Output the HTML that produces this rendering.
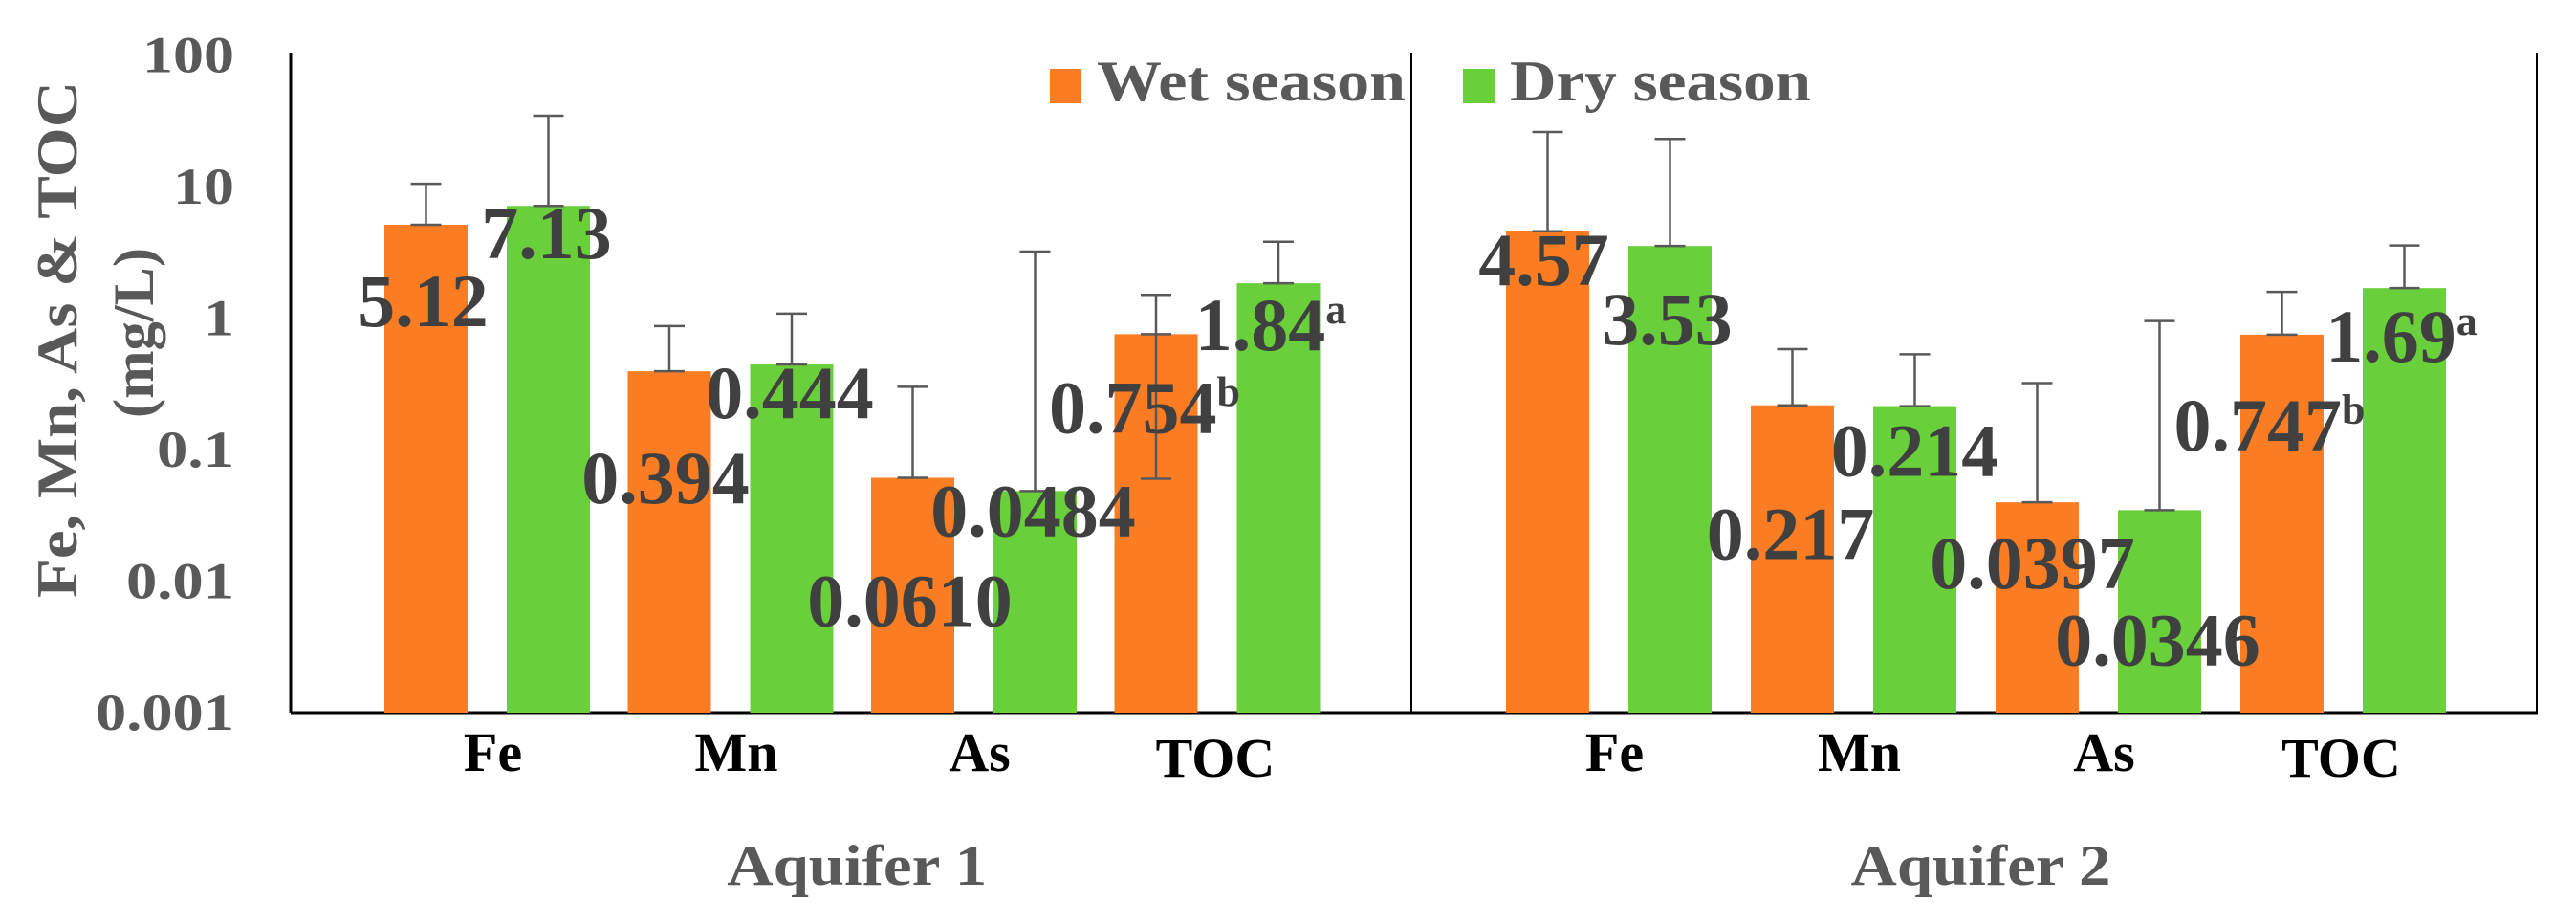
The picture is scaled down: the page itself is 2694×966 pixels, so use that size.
<!DOCTYPE html>
<html><head><meta charset="utf-8">
<style>
html,body{margin:0;padding:0;background:#fff;}
svg{display:block;font-family:"Liberation Serif",serif;font-weight:bold;}
</style></head>
<body>
<svg id="chart" width="2694" height="966" viewBox="0 0 2694 966" xmlns="http://www.w3.org/2000/svg">
<g id="axes"></g>
<g id="bars"></g>
<g id="labels"></g>
</svg>
<script>
const groups = ["Aquifer 1", "Aquifer 2"];
const categories = ["Fe", "Mn", "As", "TOC"];
const wetValues = [[5.12, 0.394, 0.0610, 0.754], [4.57, 0.217, 0.0397, 0.747]];
const dryValues = [[7.13, 0.444, 0.0484, 1.84], [3.53, 0.214, 0.0346, 1.69]];
const wetLabels = [["5.12", "0.394", "0.0610", "0.754"], ["4.57", "0.217", "0.0397", "0.747"]];
const dryLabels = [["7.13", "0.444", "0.0484", "1.84"], ["3.53", "0.214", "0.0346", "1.69"]];
const wetSup = [["", "", "", "b"], ["", "", "", "b"]];
const drySup = [["", "", "", "a"], ["", "", "", "a"]];
const wetErrTop = [[10.5, 0.87, 0.30, 1.5], [26, 0.58, 0.32, 1.58]];
const dryErrTop = [[34.5, 1.08, 3.2, 3.8], [23, 0.53, 0.95, 3.56]];
const wetErrBottom = [[null, null, null, 0.06], [null, null, null, null]];
const yTicks = [0.001, 0.01, 0.1, 1, 10, 100];
const yTickLabels = ["0.001", "0.01", "0.1", "1", "10", "100"];

const NS = "http://www.w3.org/2000/svg";
const Y_TOP = 57.5, DEC = 137.5, BASE = 745;
function y(v){ return Y_TOP + (2 - Math.log10(v)) * DEC; }
const groupStart = [402, 1575], catStep = [254.5, 256], BW = 87, DRY_OFF = 128;
function xWet(g,i){ return groupStart[g] + catStep[g]*i; }
function xDry(g,i){ return xWet(g,i) + DRY_OFF; }
function mk(tag, attrs, parent){ const e=document.createElementNS(NS,tag); for(const k in attrs) e.setAttribute(k,attrs[k]); parent.appendChild(e); return e; }

const axes = document.getElementById('axes'), bars = document.getElementById('bars'), labels = document.getElementById('labels');

let l = mk('line',{x1:304,y1:55,x2:304,y2:BASE,stroke:'#000','stroke-width':3},axes);
 
l = mk('line',{x1:304,y1:BASE,x2:2654,y2:BASE,stroke:'#000','stroke-width':3},axes);
 
l = mk('line',{x1:1476,y1:55,x2:1476,y2:BASE,stroke:'#000','stroke-width':2},axes);
 
l = mk('line',{x1:2653,y1:55,x2:2653,y2:BASE,stroke:'#000','stroke-width':2},axes);
 

yTicks.forEach((t,k)=>{
  const s = yTickLabels[k];
  const dots = (s.match(/\./g)||[]).length;
  const w = (s.length-dots)*32 + dots*17;
  const tx = mk('text',{x:245,y:y(t)+18,'text-anchor':'end','font-size':54,fill:'#595959',textLength:w,lengthAdjust:'spacingAndGlyphs'},axes);
  tx.textContent = s;
  
  
});

let t1 = mk('text',{transform:'translate(80,355) rotate(-90)','text-anchor':'middle','font-size':60,fill:'#595959',textLength:540,lengthAdjust:'spacingAndGlyphs'},axes);
t1.textContent = 'Fe, Mn, As & TOC';
 
let t2 = mk('text',{transform:'translate(160,348) rotate(-90)','text-anchor':'middle','font-size':60,fill:'#595959',textLength:178,lengthAdjust:'spacingAndGlyphs'},axes);
t2.textContent = '(mg/L)';
 

let r = mk('rect',{x:1098,y:72,width:32,height:36,fill:'#FA7D23'},axes);
 
let lt = mk('text',{x:1147,y:105,'font-size':60,fill:'#595959',textLength:323,lengthAdjust:'spacingAndGlyphs'},axes);
lt.textContent='Wet season';
 
r = mk('rect',{x:1530,y:72,width:34,height:36,fill:'#69CF3B'},axes);
 
lt = mk('text',{x:1579,y:105,'font-size':60,fill:'#595959',textLength:315,lengthAdjust:'spacingAndGlyphs'},axes);
lt.textContent='Dry season';
 

// label offsets (layout only): [dx from bar center, dy baseline below bar top]
const wetLblOff = [[[-3,106],[-4,138],[-3,155],[-12,103]], [[-4,56],[-2,161],[-5,90],[-13,121]]];
const dryLblOff = [[[-2,55],[-2,56],[-2,47],[-8,70]], [[-3,103],[0,73],[-2,162],[-3,77]]];

function errBar(cx, v, top, bot, name){
  const g = mk('g',{stroke:'#595959','stroke-width':2.5},bars);
  
  
  mk('line',{x1:cx,y1:y(v),x2:cx,y2:y(top)},g);
  mk('line',{x1:cx-16,y1:y(top),x2:cx+16,y2:y(top)},g);
  mk('line',{x1:cx-16,y1:y(v),x2:cx+16,y2:y(v)},g);
  if(bot!=null){
    mk('line',{x1:cx,y1:y(v),x2:cx,y2:y(bot)},g);
    mk('line',{x1:cx-16,y1:y(bot),x2:cx+16,y2:y(bot)},g);
  }
}
function valLabel(cx, v, txt, sup, off, name){
  const tx = mk('text',{x:cx+off[0],y:y(v)+off[1],'text-anchor':'middle','font-size':78,fill:'#404040'},labels);
  tx.textContent = txt;
  if(sup){ const s = mk('tspan',{'font-size':44,dy:-28},tx); s.textContent = sup; }
  
  
}

groups.forEach((gname,g)=>{
  categories.forEach((c,i)=>{
    const xw = xWet(g,i), xd = xDry(g,i);
    const bw = mk('rect',{x:xw,y:y(wetValues[g][i]),width:BW,height:BASE-y(wetValues[g][i]),fill:'#FA7D23'},bars);
    
    
    const bd = mk('rect',{x:xd,y:y(dryValues[g][i]),width:BW,height:BASE-y(dryValues[g][i]),fill:'#69CF3B'},bars);
    
    
    errBar(xw+BW/2, wetValues[g][i], wetErrTop[g][i], wetErrBottom[g][i], 'error-bar-wet');
    errBar(xd+BW/2, dryValues[g][i], dryErrTop[g][i], null, 'error-bar-dry');
    valLabel(xw+BW/2, wetValues[g][i], wetLabels[g][i], wetSup[g][i], wetLblOff[g][i], 'value-label-wet');
    valLabel(xd+BW/2, dryValues[g][i], dryLabels[g][i], drySup[g][i], dryLblOff[g][i], 'value-label-dry');
    const cl = mk('text',{x:(xw+xd+BW)/2+(i==3?-2:6),y:806+(i==3?6:0),'text-anchor':'middle','font-size':58,fill:'#000'},axes);
    cl.textContent = c;
    
    
  });
  const gl = mk('text',{x:(xWet(g,0)+xDry(g,3)+BW)/2+5,y:925,'text-anchor':'middle','font-size':60,fill:'#595959',textLength:272,lengthAdjust:'spacingAndGlyphs'},axes);
  gl.textContent = gname;
  
  
});
</script>
</body></html>
